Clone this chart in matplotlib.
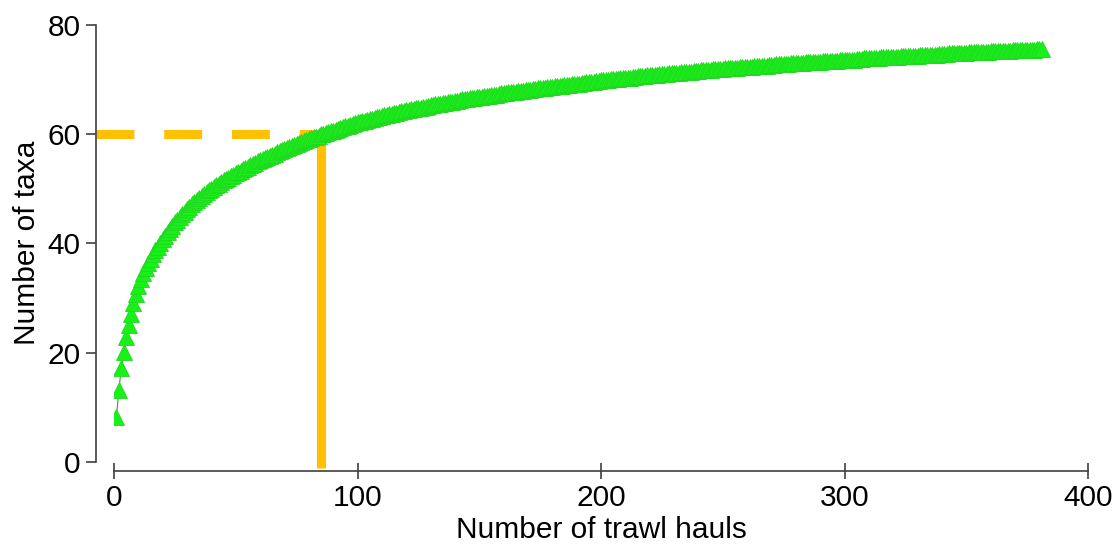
import matplotlib
matplotlib.use('Agg')
import matplotlib.pyplot as plt

plt.rcParams['font.family'] = ['Liberation Sans', 'DejaVu Sans']

# curva de acumulacion de taxa (un valor por lance)
taxa = [8.2, 13.2, 17.2, 20.1, 22.8, 25.0, 27.1, 29.0, 30.7, 32.2,
        33.4, 34.5, 35.5, 36.4, 37.2, 38.0, 38.7, 39.4, 40.1, 40.8,
        41.4, 42.0, 42.6, 43.2, 43.8, 44.3, 44.8, 45.3, 45.8, 46.3,
        46.7, 47.1, 47.5, 47.9, 48.3, 48.7, 49.0, 49.3, 49.7, 50.0,
        50.3, 50.6, 50.9, 51.2, 51.5, 51.8, 52.0, 52.3, 52.5, 52.8,
        53.0, 53.3, 53.5, 53.8, 54.0, 54.3, 54.5, 54.7, 55.0, 55.2,
        55.4, 55.6, 55.8, 56.0, 56.2, 56.4, 56.6, 56.8, 57.0, 57.2,
        57.4, 57.6, 57.8, 58.0, 58.2, 58.4, 58.5, 58.7, 58.9, 59.1,
        59.2, 59.4, 59.5, 59.7, 59.9, 60.0, 60.2, 60.3, 60.5, 60.6,
        60.8, 60.9, 61.1, 61.2, 61.4, 61.5, 61.6, 61.8, 61.9, 62.1,
        62.2, 62.3, 62.4, 62.6, 62.7, 62.8, 62.9, 63.0, 63.1, 63.3,
        63.4, 63.5, 63.6, 63.7, 63.8, 63.9, 64.0, 64.1, 64.2, 64.3,
        64.4, 64.5, 64.6, 64.7, 64.8, 64.8, 64.9, 65.0, 65.1, 65.2,
        65.3, 65.4, 65.5, 65.5, 65.6, 65.7, 65.8, 65.9, 65.9, 66.0,
        66.1, 66.2, 66.3, 66.3, 66.4, 66.5, 66.6, 66.6, 66.7, 66.8,
        66.8, 66.9, 67.0, 67.0, 67.1, 67.2, 67.2, 67.3, 67.4, 67.4,
        67.5, 67.6, 67.6, 67.7, 67.7, 67.8, 67.9, 67.9, 68.0, 68.0,
        68.1, 68.2, 68.2, 68.3, 68.3, 68.4, 68.4, 68.5, 68.6, 68.6,
        68.7, 68.7, 68.8, 68.8, 68.9, 68.9, 69.0, 69.1, 69.1, 69.2,
        69.2, 69.3, 69.3, 69.4, 69.4, 69.5, 69.5, 69.6, 69.7, 69.8,
        69.8, 69.9, 69.9, 70.0, 70.0, 70.1, 70.1, 70.2, 70.2, 70.3,
        70.3, 70.3, 70.4, 70.4, 70.5, 70.5, 70.6, 70.6, 70.7, 70.7,
        70.8, 70.8, 70.8, 70.9, 70.9, 71.0, 71.0, 71.1, 71.1, 71.1,
        71.2, 71.2, 71.3, 71.3, 71.3, 71.4, 71.4, 71.5, 71.5, 71.5,
        71.6, 71.6, 71.7, 71.7, 71.7, 71.8, 71.8, 71.8, 71.9, 71.9,
        72.0, 72.0, 72.0, 72.1, 72.1, 72.1, 72.2, 72.2, 72.2, 72.3,
        72.3, 72.3, 72.4, 72.4, 72.4, 72.5, 72.5, 72.5, 72.6, 72.6,
        72.6, 72.7, 72.7, 72.7, 72.8, 72.8, 72.8, 72.9, 72.9, 72.9,
        73.0, 73.0, 73.0, 73.1, 73.1, 73.1, 73.1, 73.2, 73.2, 73.2,
        73.3, 73.3, 73.3, 73.4, 73.4, 73.4, 73.4, 73.5, 73.5, 73.5,
        73.6, 73.6, 73.6, 73.6, 73.7, 73.7, 73.7, 73.8, 73.8, 73.8,
        73.8, 73.9, 73.9, 73.9, 74.0, 74.0, 74.0, 74.0, 74.1, 74.1,
        74.1, 74.1, 74.2, 74.2, 74.2, 74.2, 74.3, 74.3, 74.3, 74.3,
        74.4, 74.4, 74.4, 74.4, 74.5, 74.5, 74.5, 74.5, 74.6, 74.6,
        74.6, 74.6, 74.7, 74.7, 74.7, 74.7, 74.8, 74.8, 74.8, 74.8,
        74.9, 74.9, 74.9, 74.9, 75.0, 75.0, 75.0, 75.0, 75.0, 75.1,
        75.1, 75.1, 75.1, 75.2, 75.2, 75.2, 75.2, 75.2, 75.3, 75.3,
        75.3, 75.3, 75.3, 75.4, 75.4, 75.4, 75.4, 75.4, 75.5, 75.5,
        75.5]
hauls = list(range(1, len(taxa) + 1))

# punto de referencia: 60 taxa con 85 lances
ref_hauls = 85
ref_taxa = 60

xticks = [0, 100, 200, 300, 400]
yticks = [0, 20, 40, 60, 80]

fig = plt.figure(figsize=(11.19, 5.5), dpi=100)
ax = fig.add_axes([114 / 1119, 88 / 550, 974 / 1119, 437.5 / 550])

ax.plot(hauls, taxa, '-^', color='#3a9a3a', lw=0.8,
        ms=12, mfc='#19f019', mec='#20d820', mew=0.6, zorder=3)

# lineas naranjas de referencia (llegan hasta los ejes desplazados)
ax.plot([-7.4, ref_hauls], [ref_taxa, ref_taxa], color='#ffc000', lw=6.5,
        dashes=(4.2, 3.3), solid_capstyle='butt', dash_capstyle='butt',
        clip_on=False, zorder=2)
ax.plot([ref_hauls, ref_hauls], [ref_taxa, -1.1], color='#ffc000', lw=6.5,
        solid_capstyle='butt', clip_on=False, zorder=2)

ax.set_xlim(0, 400)
ax.set_ylim(0, 80)
ax.set_xticks(xticks)
ax.set_yticks(yticks)

for s in ['top', 'right']:
    ax.spines[s].set_visible(False)
ax.spines['left'].set_position(('outward', 13))
ax.spines['bottom'].set_position(('outward', 6.5))
ax.spines['left'].set_bounds(0, 80)
ax.spines['bottom'].set_bounds(0, 400)
for s in ['left', 'bottom']:
    ax.spines[s].set_color('#404040')
    ax.spines[s].set_linewidth(1.2)

ax.tick_params(axis='x', direction='inout', length=12, width=1.2,
               color='#404040', labelsize=21.5, pad=3.5)
ax.tick_params(axis='y', direction='out', length=7, width=1.2,
               color='#404040', labelsize=21.5, pad=4)

ax.set_xlabel('Number of trawl hauls', fontsize=21.5, labelpad=3)
ax.set_ylabel('Number of taxa', fontsize=21.5, labelpad=5)

fig.savefig('out.png', dpi=100)
